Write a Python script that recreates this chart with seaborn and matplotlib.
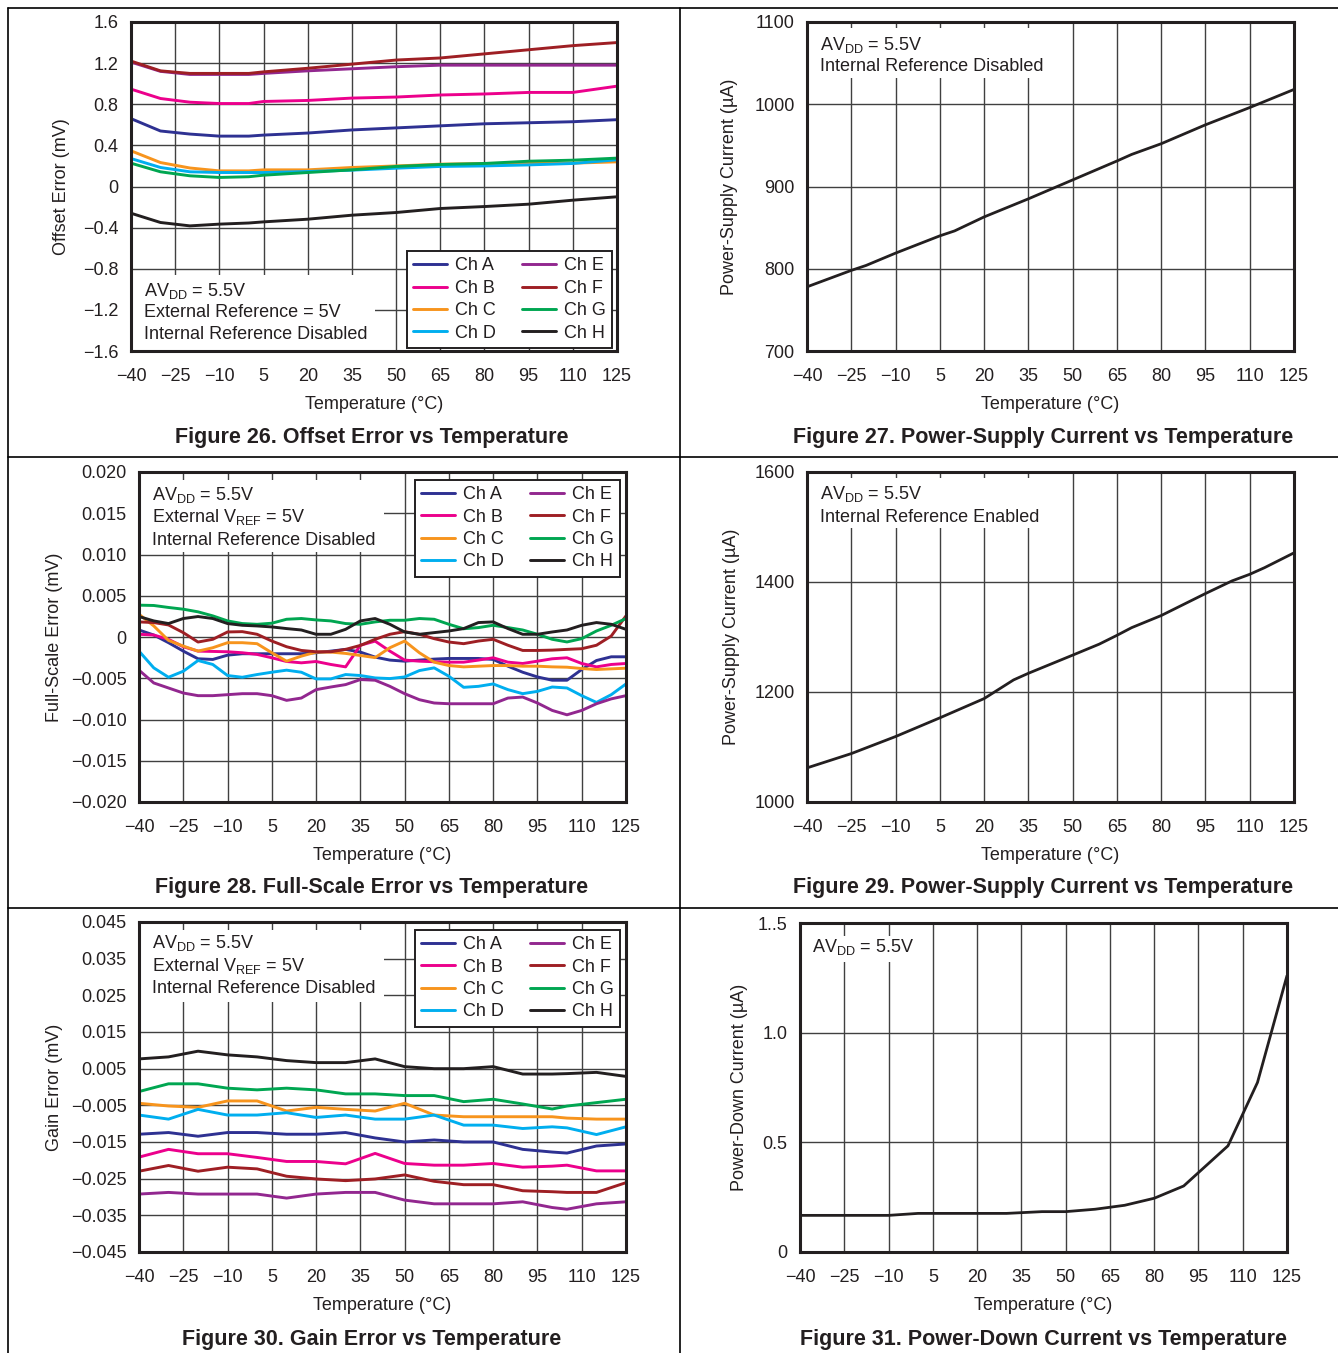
import pandas as pd
import seaborn as sns
import matplotlib.pyplot as plt
from matplotlib.lines import Line2D
from matplotlib.patches import Rectangle

#########################
# data
#########################

channels = ["Ch A", "Ch B", "Ch C", "Ch D", "Ch E", "Ch F", "Ch G", "Ch H"]
channel_colors = ["#2e3192", "#ec008c", "#f7941d", "#00aeef",
                  "#92278f", "#9e1f24", "#00a651", "#231f20"]

temp_ticks = [-40, -25, -10, 5, 20, 35, 50, 65, 80, 95, 110, 125]
temp_labels = ["\u221240", "\u221225", "\u221210", "5", "20", "35", "50", "65", "80", "95", "110", "125"]

# Figure 26 - offset error (mV)
temp_off = [-40, -30, -20, -10, 0, 5, 20, 35, 50, 65, 80, 95, 110, 125]
off_a = [0.66, 0.54, 0.51, 0.49, 0.49, 0.50, 0.52, 0.55, 0.57, 0.59, 0.61, 0.62, 0.63, 0.65]
off_b = [0.947, 0.856, 0.82, 0.807, 0.807, 0.827, 0.837, 0.86, 0.87, 0.89, 0.90, 0.915, 0.915, 0.976]
off_c = [0.347, 0.233, 0.18, 0.152, 0.152, 0.162, 0.162, 0.185, 0.20, 0.217, 0.224, 0.227, 0.227, 0.24]
off_d = [0.272, 0.185, 0.143, 0.136, 0.136, 0.136, 0.146, 0.159, 0.178, 0.195, 0.20, 0.21, 0.224, 0.26]
off_e = [1.21, 1.12, 1.09, 1.09, 1.09, 1.10, 1.125, 1.145, 1.165, 1.18, 1.18, 1.18, 1.18, 1.18]
off_f = [1.22, 1.125, 1.10, 1.10, 1.10, 1.115, 1.15, 1.19, 1.23, 1.25, 1.29, 1.33, 1.37, 1.40]
off_g = [0.227, 0.143, 0.104, 0.088, 0.095, 0.11, 0.136, 0.162, 0.195, 0.214, 0.224, 0.246, 0.256, 0.276]
off_h = [-0.26, -0.35, -0.383, -0.366, -0.355, -0.344, -0.318, -0.279, -0.253, -0.214, -0.195, -0.172, -0.133, -0.10]

# Figure 27 - supply current, internal reference disabled (uA)
temp_ps1 = [-40, -25, -20, -10, 5, 10, 20, 35, 50, 65, 70, 80, 95, 110, 125]
ps1 = [778, 798, 804, 819, 840, 846, 863, 885, 908, 931, 939, 952, 975, 996, 1018]

# Figure 28 - full-scale error (mV)
temp_fse = list(range(-40, 130, 5))
fse_a = [0.00085, 0.00024, -0.00069, -0.00171, -0.00264, -0.00272, -0.0022, -0.00203, -0.00203,
         -0.00203, -0.00203, -0.00203, -0.00191, -0.00171, -0.0015, -0.00183, -0.00244,
         -0.0028, -0.00293, -0.0028, -0.00268, -0.0026, -0.0026, -0.0026, -0.00272, -0.00354,
         -0.00427, -0.00484, -0.00524, -0.00524, -0.00394, -0.00285, -0.0024, -0.0024]
fse_b = [0.00033, 0.00024, -0.00028, -0.00118, -0.00171, -0.00175, -0.00179, -0.00191, -0.00211,
         -0.00252, -0.00297, -0.00313, -0.00297, -0.00333, -0.00362, -0.0010, -0.0005,
         -0.00171, -0.0028, -0.00293, -0.003, -0.00305, -0.00305, -0.0028, -0.00252, -0.00305,
         -0.00321, -0.00293, -0.00264, -0.00252, -0.00321, -0.00362, -0.00333, -0.00321]
fse_c = [0.00276, 0.00134, -0.00041, -0.0011, -0.00171, -0.0013, -0.00069, -0.00069, -0.00081,
         -0.00191, -0.00293, -0.00232, -0.00183, -0.00183, -0.00199, -0.00224, -0.0025,
         -0.0013, -0.00049, -0.00191, -0.00305, -0.00346, -0.00362, -0.00354, -0.00346, -0.00346,
         -0.00354, -0.00354, -0.00362, -0.00366, -0.00382, -0.00394, -0.00386, -0.00378]
fse_d = [-0.00171, -0.00374, -0.00488, -0.00415, -0.00285, -0.00333, -0.00467, -0.00488, -0.00455,
         -0.00427, -0.00402, -0.00427, -0.00508, -0.00508, -0.00455, -0.00467, -0.00496,
         -0.00504, -0.00484, -0.00407, -0.00374, -0.00476, -0.0061, -0.00598, -0.00569, -0.00638,
         -0.00687, -0.00659, -0.00606, -0.00618, -0.00711, -0.00793, -0.00699, -0.00569]
fse_e = [-0.00402, -0.00557, -0.00618, -0.00679, -0.00711, -0.00711, -0.00699, -0.00687, -0.00687,
         -0.00711, -0.00768, -0.0074, -0.00638, -0.00606, -0.00577, -0.00516, -0.00524,
         -0.00598, -0.00687, -0.0076, -0.008, -0.00809, -0.00809, -0.00809, -0.00809, -0.0074,
         -0.00728, -0.008, -0.0089, -0.00943, -0.0089, -0.00809, -0.0075, -0.00711]
fse_f = [0.00183, 0.00175, 0.00146, 0.00053, -0.00061, -0.00028, 0.00061, 0.00065, 0.00033,
         -0.00049, -0.00118, -0.00163, -0.00179, -0.00179, -0.0015, -0.00102, -0.00028,
         0.00033, 0.00065, 0.00033, -0.0002, -0.00061, -0.00081, -0.00049, -0.00028, -0.001,
         -0.00163, -0.00163, -0.00159, -0.0015, -0.00142, -0.001, 0.00012, 0.00256]
fse_g = [0.00386, 0.00382, 0.00358, 0.00337, 0.00305, 0.00256, 0.00195, 0.00163, 0.00154,
         0.00167, 0.00215, 0.00224, 0.00207, 0.00195, 0.00163, 0.00154, 0.00183,
         0.00203, 0.00203, 0.00224, 0.00215, 0.00154, 0.001, 0.00114, 0.00142, 0.00114,
         0.00085, 0.00033, -0.00028, -0.0006, -0.0002, 0.00073, 0.00142, 0.00224]
fse_h = [0.00248, 0.00195, 0.00163, 0.00224, 0.00248, 0.00224, 0.00163, 0.00142, 0.00134,
         0.00122, 0.00102, 0.00085, 0.00033, 0.00033, 0.00093, 0.00195, 0.00224,
         0.00154, 0.00061, 0.00033, 0.00053, 0.00073, 0.00102, 0.00175, 0.00183, 0.00102,
         0.00033, 0.00033, 0.00061, 0.00085, 0.00142, 0.00175, 0.00154, 0.00093]

# Figure 29 - supply current, internal reference enabled (uA)
temp_ps2 = [-40, -25, -10, 5, 20, 30, 35, 50, 59, 65, 70, 80, 95, 104, 110, 115, 125]
ps2 = [1062, 1088, 1119, 1153, 1188, 1222, 1234, 1267, 1287, 1303, 1317, 1339, 1379, 1402, 1414, 1426, 1453]

# Figure 30 - gain error (mV)
temp_gain = [-40, -30, -20, -10, 0, 10, 20, 30, 40, 50, 60, 70, 80, 90, 100, 105, 115, 125]
gain_a = [-0.01288, -0.01242, -0.01343, -0.01242, -0.01242, -0.01288, -0.01288, -0.01242, -0.01389,
          -0.01499, -0.01444, -0.01499, -0.01499, -0.01701, -0.01774, -0.01802, -0.01609, -0.01554]
gain_b = [-0.01912, -0.01701, -0.0182, -0.0182, -0.01921, -0.02031, -0.02031, -0.02095, -0.01811,
          -0.02086, -0.02132, -0.02132, -0.02086, -0.02187, -0.02159, -0.02132, -0.02288, -0.02288]
gain_c = [-0.00444, -0.00518, -0.00555, -0.0038, -0.0038, -0.00655, -0.00555, -0.0061, -0.00655,
          -0.00444, -0.00765, -0.00811, -0.00811, -0.00811, -0.00811, -0.00848, -0.00876, -0.00876]
gain_d = [-0.00765, -0.00876, -0.0061, -0.00765, -0.00765, -0.00701, -0.0083, -0.00765, -0.00876,
          -0.00876, -0.00765, -0.0104, -0.0104, -0.01132, -0.01086, -0.01114, -0.01297, -0.01086]
gain_e = [-0.0292, -0.02875, -0.0292, -0.0292, -0.0292, -0.0303, -0.0292, -0.02875, -0.02875,
          -0.03085, -0.03186, -0.03186, -0.03186, -0.03131, -0.03287, -0.03333, -0.03186, -0.03131]
gain_f = [-0.02297, -0.02141, -0.02297, -0.02187, -0.02233, -0.02434, -0.02508, -0.02554, -0.02508,
          -0.02398, -0.02572, -0.02664, -0.02664, -0.02829, -0.02856, -0.02875, -0.02875, -0.02609]
gain_g = [-0.00124, 0.00087, 0.00087, -0.00032, -0.00078, -0.00032, -0.00078, -0.00188, -0.00188,
          -0.00234, -0.00234, -0.00399, -0.00334, -0.00463, -0.006, -0.0052, -0.00426, -0.00334]
gain_h = [0.00766, 0.00821, 0.00977, 0.00876, 0.00821, 0.0072, 0.00665, 0.00665, 0.00766,
          0.00555, 0.005, 0.005, 0.00555, 0.00353, 0.00353, 0.00365, 0.00399, 0.00289]

# Figure 31 - power-down current (uA)
temp_pd = [-40, -10, 0, 30, 42, 50, 60, 70, 80, 90, 105, 115, 125]
pd_cur = [0.167, 0.167, 0.176, 0.176, 0.184, 0.184, 0.195, 0.213, 0.245, 0.301, 0.484, 0.773, 1.26]

#########################
# style
#########################

sns.set_theme(style="white")
plt.rcParams["font.family"] = ["Liberation Sans", "DejaVu Sans"]
plt.rcParams["axes.unicode_minus"] = True

W, H = 1338, 1353
FS = 13
INK = "#231f20"

fig = plt.figure(figsize=(W / 100, H / 100), dpi=100)
fig.patch.set_facecolor("white")


def add_axes(left, top, right, bottom):
    return fig.add_axes([left / W, 1 - bottom / H, (right - left) / W, (bottom - top) / H])


def style_axes(ax, yticks, ylabels, ylim, ylabel, ylab_x):
    ax.set_xlim(-40, 125)
    ax.set_xticks(temp_ticks)
    ax.set_xticklabels(temp_labels)
    ax.set_ylim(ylim)
    ax.set_yticks(yticks)
    ax.set_yticklabels(ylabels)
    ax.set_axisbelow(True)
    ax.grid(True, color="#404040", lw=1.0)
    for s in ax.spines.values():
        s.set_visible(True)
        s.set_linewidth(2.2)
        s.set_color(INK)
        s.set_zorder(5)
    ax.tick_params(length=0, labelsize=FS, colors=INK)
    ax.tick_params(axis="x", pad=12.5)
    ax.tick_params(axis="y", pad=9)
    ax.set_xlabel("Temperature (\u00b0C)", fontsize=FS, color=INK, labelpad=8)
    ax.set_ylabel(ylabel, fontsize=FS, color=INK)
    ax.yaxis.set_label_coords(ylab_x, 0.5)


def cover(ax, x0, y0, x1, y1):
    # white patch that hides the grid behind the condition notes
    ax.add_patch(Rectangle((x0, y0), x1 - x0, y1 - y0, transform=ax.transAxes,
                           facecolor="white", edgecolor="none", zorder=1))


def notes(ax, x, ys, lines):
    for y, t in zip(ys, lines):
        ax.text(x, y, t, transform=ax.transAxes, fontsize=FS, color=INK,
                va="baseline", ha="left", zorder=6)


def channel_plot(ax, temps, series):
    frames = []
    for name, vals in zip(channels, series):
        frames.append(pd.DataFrame({"Temperature": temps, "Value": vals, "Channel": name}))
    df = pd.concat(frames, ignore_index=True)
    sns.lineplot(data=df, x="Temperature", y="Value", hue="Channel", hue_order=channels,
                 palette=channel_colors, estimator=None, lw=2.1, legend=False, ax=ax)


def channel_legend(ax, loc, anchor):
    handles = [Line2D([], [], color=c, lw=2.1) for c in channel_colors]
    leg = ax.legend(handles, channels, ncol=2, loc=loc, bbox_to_anchor=anchor,
                    fontsize=FS, frameon=True, fancybox=False, framealpha=1,
                    handlelength=1.9, handletextpad=0.45, columnspacing=1.4,
                    labelspacing=0.3, borderpad=0.35, borderaxespad=0)
    leg.get_frame().set_edgecolor(INK)
    leg.get_frame().set_linewidth(1.4)
    leg.set_zorder(7)
    for t in leg.get_texts():
        t.set_color(INK)


def fig_title(cx, cy, text):
    fig.text(cx / W, 1 - cy / H, text, ha="center", va="center",
             fontsize=15.5, fontweight="bold", color=INK)


avdd = r"AV$_{\mathregular{DD}}$ = 5.5V"

#########################
# Figure 26
#########################

ax = add_axes(131, 22, 617, 351)
channel_plot(ax, temp_off, [off_a, off_b, off_c, off_d, off_e, off_f, off_g, off_h])
style_axes(ax, [1.6, 1.2, 0.8, 0.4, 0, -0.4, -0.8, -1.2, -1.6],
           ["1.6", "1.2", "0.8", "0.4", "0", "\u22120.4", "\u22120.8", "\u22121.2", "\u22121.6"],
           (-1.6, 1.6), "Offset Error (mV)", -0.126)
cover(ax, 0, 0, 0.502, 0.231)
notes(ax, 0.027, [0.166, 0.102, 0.035],
      [avdd, "External Reference = 5V", "Internal Reference Disabled"])
channel_legend(ax, "lower right", (0.99, 0.009))
fig_title(371.5, 438, "Figure 26. Offset Error vs Temperature")

#########################
# Figure 27
#########################

ax = add_axes(807, 22, 1294, 351)
sns.lineplot(x=temp_ps1, y=ps1, color=INK, lw=2.0, estimator=None, ax=ax)
style_axes(ax, [700, 800, 900, 1000, 1100], ["700", "800", "900", "1000", "1100"],
           (700, 1100), "Power-Supply Current (\u00b5A)", -0.142)
cover(ax, 0, 0.83, 0.51, 0.982)
notes(ax, 0.027, [0.916, 0.85], [avdd, "Internal Reference Disabled"])
fig_title(1043.5, 438, "Figure 27. Power-Supply Current vs Temperature")

#########################
# Figure 28
#########################

ax = add_axes(139, 472, 626, 802)
channel_plot(ax, temp_fse, [fse_a, fse_b, fse_c, fse_d, fse_e, fse_f, fse_g, fse_h])
style_axes(ax, [0.02, 0.015, 0.01, 0.005, 0, -0.005, -0.01, -0.015, -0.02],
           ["0.020", "0.015", "0.010", "0.005", "0", "\u22120.005", "\u22120.010",
            "\u22120.015", "\u22120.020"],
           (-0.02, 0.02), "Full-Scale Error (mV)", -0.156)
cover(ax, 0, 0.758, 0.503, 0.976)
notes(ax, 0.027, [0.914, 0.847, 0.780],
      [avdd, r"External V$_{\mathregular{REF}}$ = 5V", "Internal Reference Disabled"])
channel_legend(ax, "upper right", (0.988, 0.976))
fig_title(371.5, 888, "Figure 28. Full-Scale Error vs Temperature")

#########################
# Figure 29
#########################

ax = add_axes(807, 472, 1294, 802)
sns.lineplot(x=temp_ps2, y=ps2, color=INK, lw=2.0, estimator=None, ax=ax)
style_axes(ax, [1000, 1200, 1400, 1600], ["1000", "1200", "1400", "1600"],
           (1000, 1600), "Power-Supply Current (\u00b5A)", -0.138)
cover(ax, 0, 0.83, 0.5, 0.982)
notes(ax, 0.027, [0.917, 0.85], [avdd, "Internal Reference Enabled"])
fig_title(1043.5, 888, "Figure 29. Power-Supply Current vs Temperature")

#########################
# Figure 30
#########################

ax = add_axes(139, 922, 626, 1252)
channel_plot(ax, temp_gain, [gain_a, gain_b, gain_c, gain_d, gain_e, gain_f, gain_g, gain_h])
gain_ticks = [0.045, 0.035, 0.025, 0.015, 0.005, -0.005, -0.015, -0.025, -0.035, -0.045]
style_axes(ax, gain_ticks,
           ["0.045", "0.035", "0.025", "0.015", "0.005", "\u22120.005", "\u22120.015",
            "\u22120.025", "\u22120.035", "\u22120.045"],
           (-0.045, 0.045), "Gain Error (mV)", -0.156)
cover(ax, 0, 0.758, 0.503, 0.976)
notes(ax, 0.027, [0.92, 0.853, 0.786],
      [avdd, r"External V$_{\mathregular{REF}}$ = 5V", "Internal Reference Disabled"])
channel_legend(ax, "upper right", (0.988, 0.976))
fig_title(371.5, 1339, "Figure 30. Gain Error vs Temperature")

#########################
# Figure 31
#########################

ax = add_axes(800, 923, 1287, 1252)
sns.lineplot(x=temp_pd, y=pd_cur, color=INK, lw=2.0, estimator=None, ax=ax)
style_axes(ax, [0, 0.5, 1.0, 1.5], ["0", "0.5", "1.0", "1..5"],
           (0, 1.5), "Power-Down Current (\u00b5A)", -0.107)
cover(ax, 0, 0.881, 0.25, 0.96)
notes(ax, 0.025, [0.913], [avdd])
fig_title(1043.5, 1339, "Figure 31. Power-Down Current vs Temperature")

#########################
# table rules
#########################

def rule(x0, y0, x1, y1):
    fig.add_artist(Line2D([x0 / W, x1 / W], [1 - y0 / H, 1 - y1 / H], color="black", lw=1.2))


rule(8, 8, 1338, 8)
rule(8, 8, 8, 1353)
rule(680, 8, 680, 1353)
rule(8, 457, 1338, 457)
rule(8, 908, 1338, 908)

fig.savefig("out.png", dpi=100)
